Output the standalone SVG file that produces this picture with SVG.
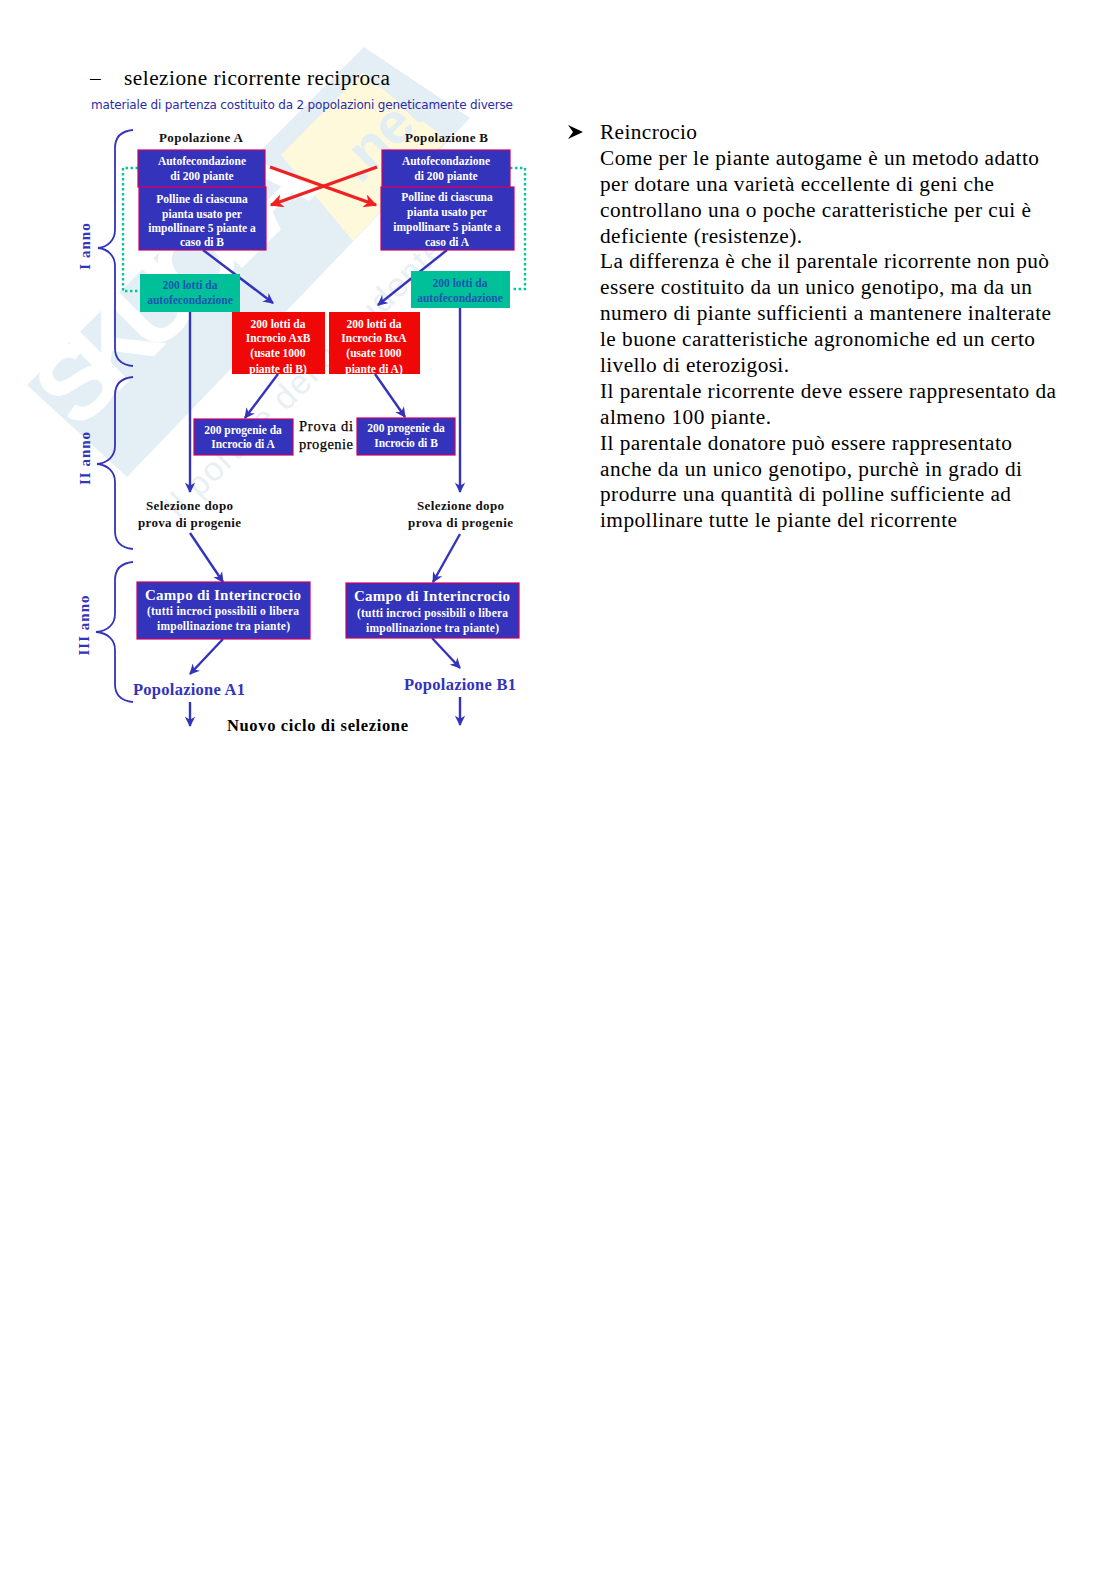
<svg xmlns="http://www.w3.org/2000/svg" width="1116" height="1579" viewBox="0 0 1116 1579">
<defs>
<style>
text{font-family:"Liberation Serif","Times New Roman",serif}
.body{font-size:21.3px;fill:#000}
.box{font-weight:bold;fill:#fff;text-anchor:middle;font-size:11.5px}
.lab{font-weight:bold;fill:#111;font-size:13px}
.blue{fill:#3333bb}
.r{fill:#3333bb;stroke:#cc0066;stroke-width:1.2}
.c{fill:none;stroke:#3333bb;stroke-width:2.4}
.d{fill:none;stroke:#00c896;stroke-width:2.4;stroke-dasharray:2.4 2.6}
.br{fill:none;stroke:#3333bb;stroke-width:1.8}
.yr{font-size:15px;font-weight:bold;fill:#3333bb;text-anchor:middle;letter-spacing:1px}
.wm{font-family:"Liberation Sans",Arial,sans-serif;font-weight:bold}
.pv{font-size:14.5px;fill:#000;stroke:#000;stroke-width:.25}
</style>
<marker id="ab" viewBox="0 0 10 10" refX="9" refY="5" markerWidth="4.4" markerHeight="4.4" orient="auto" markerUnits="strokeWidth"><path d="M0 0L10 5L0 10L3 5Z" fill="#3333bb"/></marker>
<marker id="ar" viewBox="0 0 10 10" refX="9" refY="5" markerWidth="4" markerHeight="4" orient="auto" markerUnits="strokeWidth"><path d="M0 0L10 5L0 10L3 5Z" fill="#ee2222"/></marker>
</defs>
<rect width="1116" height="1579" fill="#fff"/>
<g id="watermark">
<path d="M27 385L364 47L470 118L345 250L127 477Z" fill="#e3eff5"/>
<path d="M281 155L362 73L447 140L353 241Z" fill="#fff9dc"/>
<text class="wm" transform="translate(78 432) rotate(-45)" font-size="105" fill="#fff" textLength="345">SKUOLA</text>
<text class="wm" transform="translate(360 185) rotate(-45)" font-size="58" fill="#e3eef2" textLength="100">.net</text>
<text transform="translate(178 520) rotate(-45)" font-size="34" fill="#e8f0f5" textLength="380" style="font-family:'Liberation Sans',Arial,sans-serif">Il portale dello studente</text>
</g>
<text class="body" x="90" y="85">–</text>
<text class="body" x="124" y="85" textLength="266">selezione ricorrente reciproca</text>
<text x="91" y="109" font-size="12" fill="#2c2ca8" textLength="422" style="font-family:'DejaVu Sans',sans-serif">materiale di partenza costituito da 2 popolazioni geneticamente diverse</text>
<g id="connectors">
<path class="c" d="M203 250L273 303" marker-end="url(#ab)"/>
<path class="c" d="M447 250L378 305" marker-end="url(#ab)"/>
<path class="c" d="M190 312V492" marker-end="url(#ab)"/>
<path class="c" d="M460 308V492" marker-end="url(#ab)"/>
<path class="c" d="M278 374L245 418" marker-end="url(#ab)"/>
<path class="c" d="M375 374L405 417" marker-end="url(#ab)"/>
<path class="c" d="M190 533L223 582" marker-end="url(#ab)"/>
<path class="c" d="M460 534L433 582" marker-end="url(#ab)"/>
<path class="c" d="M223 639L190 674" marker-end="url(#ab)"/>
<path class="c" d="M432 638L460 668" marker-end="url(#ab)"/>
<path class="c" d="M190 702V726" marker-end="url(#ab)"/>
<path class="c" d="M460 697V725" marker-end="url(#ab)"/>
<path d="M270 167L376 205" fill="none" stroke="#ee2222" stroke-width="3.4" marker-end="url(#ar)"/>
<path d="M377 167L271 205" fill="none" stroke="#ee2222" stroke-width="3.4" marker-end="url(#ar)"/>
<path class="d" d="M138 168H123V291H140"/>
<path class="d" d="M510 168H525V289H512"/>
</g>
<g id="brace-1"><path class="br" d="M133 130C122 131 115 136 115 148V230C115 240 108 247 98 248C108 249 115 256 115 266V348C115 360 122 365 133 366"/><text class="yr" transform="translate(90 246) rotate(-90)">I anno</text></g>
<g id="brace-2"><path class="br" d="M133 377C122 378 115 383 115 395V446C115 456 108 463 97 464C108 465 115 472 115 482V531C115 543 122 548 133 549"/><text class="yr" transform="translate(90 458) rotate(-90)">II anno</text></g>
<g id="brace-3"><path class="br" d="M133 562C122 563 115 568 115 580V614C115 624 108 631 96 632C108 633 115 640 115 650V684C115 696 122 701 133 702"/><text class="yr" transform="translate(89 625) rotate(-90)">III anno</text></g>
<g id="pop-a"><text class="lab" x="159" y="142" textLength="84">Popolazione A</text></g>
<g id="pop-b"><text class="lab" x="405" y="142" textLength="83">Popolazione B</text></g>
<g id="auto-a"><rect class="r" x="138" y="150" width="127" height="37"/><text class="box" x="202" y="165">Autofecondazione</text><text class="box" x="202" y="180">di 200 piante</text></g>
<g id="auto-b"><rect class="r" x="382" y="150" width="128" height="37"/><text class="box" x="446" y="165">Autofecondazione</text><text class="box" x="446" y="180">di 200 piante</text></g>
<g id="poll-a"><rect class="r" x="139" y="187" width="127" height="63"/><text class="box" x="202" y="203">Polline di ciascuna</text><text class="box" x="202" y="218">pianta usato per</text><text class="box" x="202" y="232">impollinare 5 piante a</text><text class="box" x="202" y="246">caso di B</text></g>
<g id="poll-b"><rect class="r" x="381" y="187" width="133" height="63"/><text class="box" x="447" y="201">Polline di ciascuna</text><text class="box" x="447" y="216">pianta usato per</text><text class="box" x="447" y="231">impollinare 5 piante a</text><text class="box" x="447" y="246">caso di A</text></g>
<g id="lotti-a"><rect x="140" y="274" width="100" height="38" fill="#00c09a"/><text class="box" style="fill:#1c55b0" x="190" y="289">200 lotti da</text><text class="box" style="fill:#1c55b0" x="190" y="304">autofecondazione</text></g>
<g id="lotti-b"><rect x="411" y="271" width="99" height="37" fill="#00c09a"/><text class="box" style="fill:#1c55b0" x="460" y="287">200 lotti da</text><text class="box" style="fill:#1c55b0" x="460" y="302">autofecondazione</text></g>
<g id="incr-a"><rect x="232" y="312" width="93" height="62" fill="#f00808"/><text class="box" x="278" y="328">200 lotti da</text><text class="box" x="278" y="342">Incrocio AxB</text><text class="box" x="278" y="357">(usate 1000</text><text class="box" x="278" y="373">piante di B)</text></g>
<g id="incr-b"><rect x="329" y="312" width="91" height="62" fill="#f00808"/><text class="box" x="374" y="328">200 lotti da</text><text class="box" x="374" y="342">Incrocio BxA</text><text class="box" x="374" y="357">(usate 1000</text><text class="box" x="374" y="373">piante di A)</text></g>
<g id="prog-a"><rect class="r" x="194" y="419" width="99" height="36"/><text class="box" x="243" y="434">200 progenie da</text><text class="box" x="243" y="448">Incrocio di A</text></g>
<g id="prog-b"><rect class="r" x="357" y="418" width="98" height="37"/><text class="box" x="406" y="432">200 progenie da</text><text class="box" x="406" y="447">Incrocio di B</text></g>
<g id="prova"><text class="pv" x="299" y="431" textLength="54">Prova di</text><text class="pv" x="299" y="449" textLength="54">progenie</text></g>
<g id="sel-a"><text class="lab" x="146" y="510" textLength="87">Selezione dopo</text><text class="lab" x="138" y="527" textLength="103">prova di progenie</text></g>
<g id="sel-b"><text class="lab" x="417" y="510" textLength="87">Selezione dopo</text><text class="lab" x="408" y="527" textLength="105">prova di progenie</text></g>
<g id="campo-a"><rect class="r" x="137" y="582" width="173" height="57"/><text class="box" x="145" y="600" style="font-size:15px;text-anchor:start" textLength="156">Campo di Interincrocio</text><text class="box" x="147" y="615" style="text-anchor:start" textLength="152">(tutti incroci possibili o libera</text><text class="box" x="157" y="630" style="text-anchor:start" textLength="133">impollinazione tra piante)</text></g>
<g id="campo-b"><rect class="r" x="346" y="583" width="173" height="55"/><text class="box" x="354" y="601" style="font-size:15px;text-anchor:start" textLength="156">Campo di Interincrocio</text><text class="box" x="357" y="617" style="text-anchor:start" textLength="151">(tutti incroci possibili o libera</text><text class="box" x="366" y="632" style="text-anchor:start" textLength="133">impollinazione tra piante)</text></g>
<g id="pop-a1"><text x="133" y="695" font-size="16.5" font-weight="bold" class="blue" textLength="112">Popolazione A1</text></g>
<g id="pop-b1"><text x="404" y="690" font-size="16.5" font-weight="bold" class="blue" textLength="112">Popolazione B1</text></g>
<g id="nuovo"><text x="227" y="731" font-size="16.5" font-weight="bold" textLength="181">Nuovo ciclo di selezione</text></g>
<path d="M568 125L583 132L568 139L573 132Z" fill="#000"/>
<g id="testo">
<text class="body" x="600" y="139" textLength="97">Reincrocio</text>
<text class="body" x="600" y="165" textLength="439">Come per le piante autogame è un metodo adatto</text>
<text class="body" x="600" y="191" textLength="394">per dotare una varietà eccellente di geni che</text>
<text class="body" x="600" y="217" textLength="431">controllano una o poche caratteristiche per cui è</text>
<text class="body" x="600" y="243" textLength="202">deficiente (resistenze).</text>
<text class="body" x="600" y="268" textLength="449">La differenza è che il parentale ricorrente non può</text>
<text class="body" x="600" y="294" textLength="432">essere costituito da un unico genotipo, ma da un</text>
<text class="body" x="600" y="320" textLength="451">numero di piante sufficienti a mantenere inalterate</text>
<text class="body" x="600" y="346" textLength="435">le buone caratteristiche agronomiche ed un certo</text>
<text class="body" x="600" y="372" textLength="189">livello di eterozigosi.</text>
<text class="body" x="600" y="398" textLength="456">Il parentale ricorrente deve essere rappresentato da</text>
<text class="body" x="600" y="424" textLength="171">almeno 100 piante.</text>
<text class="body" x="600" y="450" textLength="412">Il parentale donatore può essere rappresentato</text>
<text class="body" x="600" y="476" textLength="422">anche da un unico genotipo, purchè in grado di</text>
<text class="body" x="600" y="501" textLength="411">produrre una quantità di polline sufficiente ad</text>
<text class="body" x="600" y="527" textLength="357">impollinare tutte le piante del ricorrente</text>
</g>
</svg>
